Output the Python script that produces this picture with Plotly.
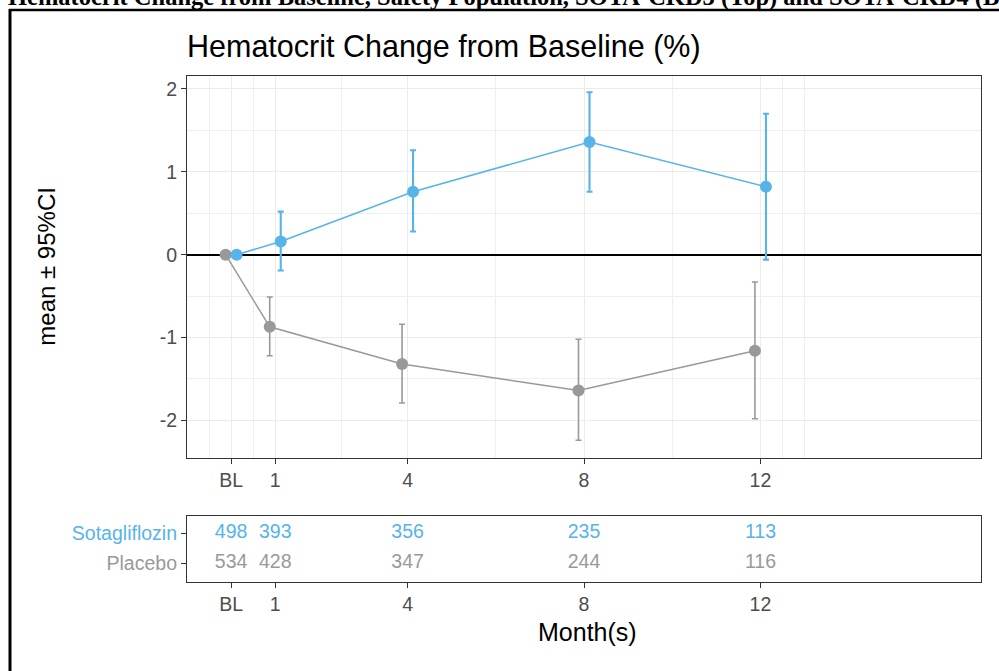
import plotly.graph_objects as go

# ---------------- data ----------------
months = [0, 1, 4, 8, 12]
month_labels = ["BL", "1", "4", "8", "12"]

soto_mean = [0.0, 0.16, 0.76, 1.36, 0.82]
soto_lo = [0.0, -0.19, 0.28, 0.76, -0.06]
soto_hi = [0.0, 0.52, 1.26, 1.96, 1.70]

plac_mean = [0.0, -0.87, -1.32, -1.64, -1.16]
plac_lo = [0.0, -1.22, -1.79, -2.24, -1.98]
plac_hi = [0.0, -0.51, -0.84, -1.02, -0.33]

soto_n = [498, 393, 356, 235, 113]
plac_n = [534, 428, 347, 244, 116]

groups = ["Sotagliflozin", "Placebo"]
# --------------------------------------

BLUE = "#56B4E9"
GREY = "#999999"
W, H = 999, 671
SANS = "Liberation Sans, Arial"


def px_x(p):
    return p / W


def px_y(p):
    return 1 - p / H


dodge = 0.125

fig = go.Figure()

series = [
    ("Placebo", plac_mean, plac_lo, plac_hi, GREY, -dodge, 1.6),
    ("Sotagliflozin", soto_mean, soto_lo, soto_hi, BLUE, dodge, 2.1),
]
for name, m, lo, hi, col, off, ew in series:
    xs = [t + off for t in months]
    fig.add_trace(go.Scatter(
        x=xs, y=m, mode="lines+markers", name=name,
        line=dict(color=col, width=1.5),
        marker=dict(color=col, size=12),
        error_y=dict(type="data", symmetric=False,
                     array=[h - v for h, v in zip(hi, m)],
                     arrayminus=[v - l for v, l in zip(m, lo)],
                     color=col, thickness=ew, width=3),
        xaxis="x", yaxis="y", showlegend=False,
    ))

# risk table
for name, ns, col, yv in [("Sotagliflozin", soto_n, BLUE, 2), ("Placebo", plac_n, GREY, 1)]:
    fig.add_trace(go.Scatter(
        x=months, y=[yv] * len(months), mode="text",
        text=[str(n) for n in ns],
        textfont=dict(color=col, size=19.5, family=SANS),
        textposition="middle center",
        xaxis="x2", yaxis="y2", showlegend=False,
    ))

x_dom = [px_x(187), px_x(981)]
axis_common = dict(
    showline=True, mirror=True, linecolor="#333333", linewidth=1.2,
    ticks="outside", ticklen=5, tickcolor="#333333", tickwidth=1.3,
    tickfont=dict(size=19.5, color="#4D4D4D", family=SANS),
)

fig.update_layout(
    width=W, height=H, autosize=False,
    margin=dict(l=0, r=0, t=0, b=0),
    paper_bgcolor="white", plot_bgcolor="white",
    font=dict(family=SANS, color="black"),
    xaxis=dict(
        domain=x_dom, range=[-1, 17], anchor="y",
        tickmode="array", tickvals=months, ticktext=month_labels,
        showgrid=True, gridcolor="#EBEBEB", gridwidth=1.3,
        minor=dict(tickmode="array", tickvals=[-0.5, 0.5, 2.5, 6, 10, 12.5, 13],
                   showgrid=True, gridcolor="#EFEFEF", gridwidth=0.9, ticks=""),
        zeroline=False,
        **axis_common,
    ),
    yaxis=dict(
        domain=[px_y(457.7), px_y(75.7)], range=[-2.45, 2.16], anchor="x",
        tickmode="array", tickvals=[-2, -1, 0, 1, 2], ticktext=["-2", "-1", "0", "1", "2"],
        showgrid=True, gridcolor="#EBEBEB", gridwidth=1.3,
        minor=dict(tickmode="array", tickvals=[-1.5, -0.5, 0.5, 1.5],
                   showgrid=True, gridcolor="#EFEFEF", gridwidth=0.9, ticks=""),
        zeroline=True, zerolinecolor="black", zerolinewidth=1.7,
        **axis_common,
    ),
    xaxis2=dict(
        domain=x_dom, range=[-1, 17], anchor="y2",
        tickmode="array", tickvals=months, ticktext=month_labels,
        showgrid=False, zeroline=False,
        **axis_common,
    ),
    yaxis2=dict(
        domain=[px_y(581.7), px_y(515.7)], range=[0.39, 2.59], anchor="x2",
        tickmode="array", tickvals=[2, 1],
        ticktext=[f'<span style="color:{BLUE}">{groups[0]}</span>',
                  f'<span style="color:{GREY}">{groups[1]}</span>'],
        showgrid=False, zeroline=False,
        **axis_common,
    ),
)

annotations = [
    dict(text="Hematocrit Change from Baseline (%)", x=px_x(185), y=px_y(47),
         xref="paper", yref="paper", xanchor="left", yanchor="middle",
         showarrow=False, font=dict(size=30.5, color="black")),
    dict(text="mean \u00b1 95%CI", x=px_x(47), y=px_y(266.7), textangle=-90,
         xref="paper", yref="paper", xanchor="center", yanchor="middle",
         showarrow=False, font=dict(size=24, color="black")),
    dict(text="Month(s)", x=px_x(587), y=px_y(632),
         xref="paper", yref="paper", xanchor="center", yanchor="middle",
         showarrow=False, font=dict(size=25, color="black")),
    dict(text="<b>Hematocrit Change from Baseline, Safety Population, SOTA-CKD3 (Top) and SOTA-CKD4 (Bottom)</b>",
         x=px_x(6), y=px_y(13.5), xref="paper", yref="paper",
         xanchor="left", yanchor="bottom", showarrow=False,
         font=dict(size=24.5, color="black", family="Liberation Serif, Times New Roman")),
]
fig.update_layout(annotations=annotations)

fig.update_layout(shapes=[
    dict(type="line", xref="paper", yref="paper", x0=px_x(10), x1=px_x(10),
         y0=0, y1=px_y(9), line=dict(color="black", width=3)),
    dict(type="line", xref="paper", yref="paper", x0=px_x(9), x1=1,
         y0=px_y(10), y1=px_y(10), line=dict(color="black", width=2.5)),
])

fig.write_html("out.html")
